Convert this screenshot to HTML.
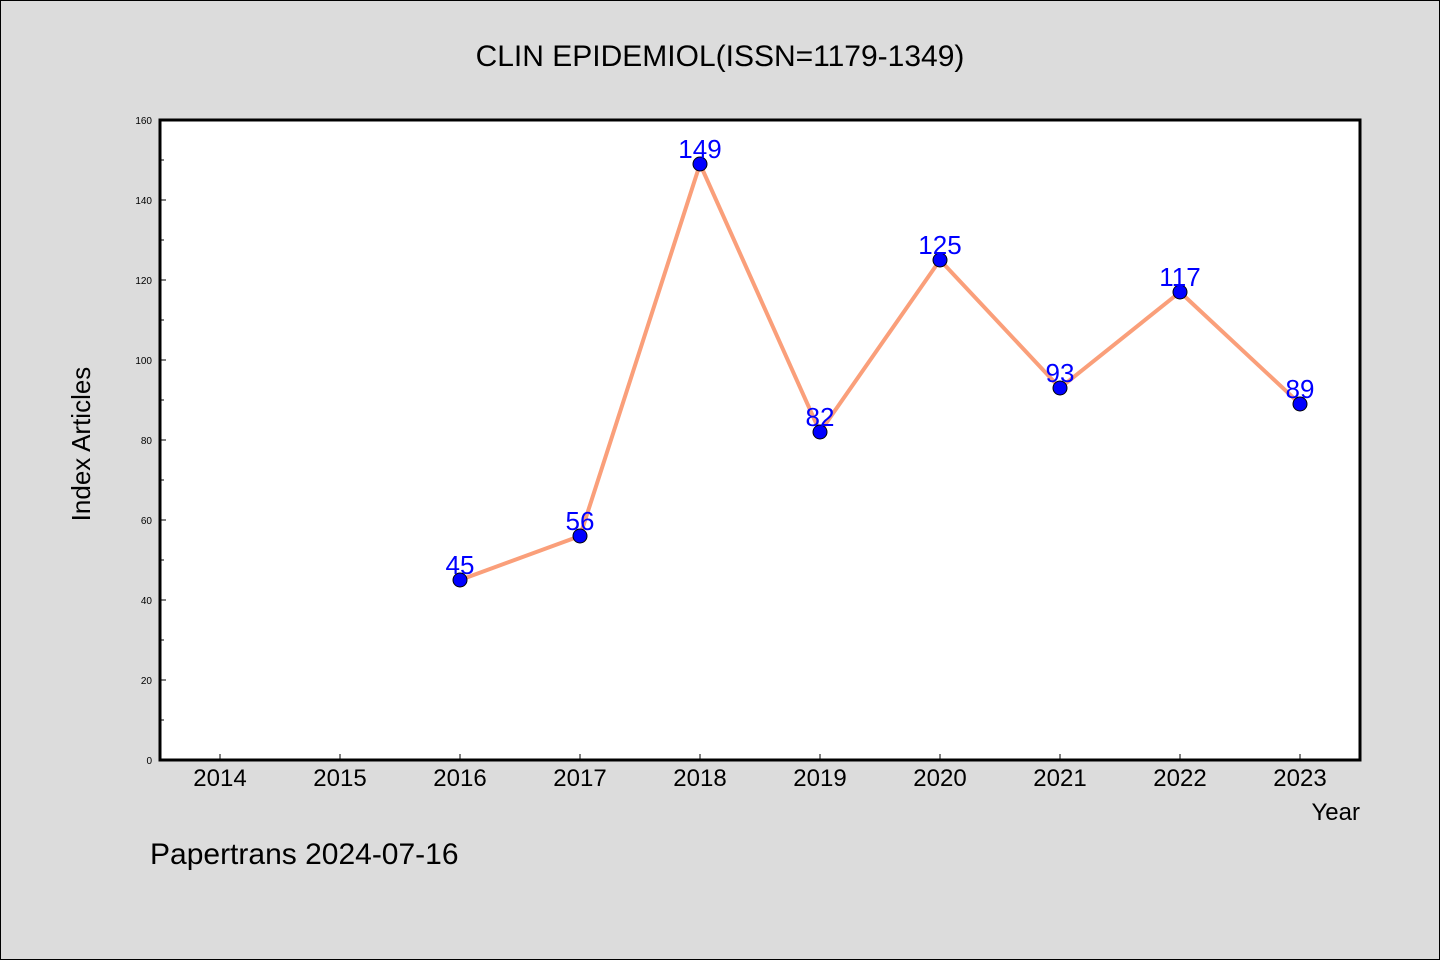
<!DOCTYPE html>
<html><head><meta charset="utf-8"><style>
body{margin:0;background:#dcdcdc;}
svg{display:block;font-family:"WenQuanYi Zen Hei","Liberation Sans",sans-serif;}
</style></head><body>
<svg id="c" width="1440" height="960">
<rect x="0.5" y="0.5" width="1439" height="959" fill="#dcdcdc" stroke="#000"/>
<text x="720" y="66" text-anchor="middle" font-size="30" fill="#000">CLIN EPIDEMIOL(ISSN=1179-1349)</text>
<rect x="160" y="120" width="1200" height="640" fill="#fff" stroke="#000" stroke-width="3"/>
<g id="axes"></g>
<g id="series"></g>
<text x="90" y="444" text-anchor="middle" font-size="26" transform="rotate(-90 90 444)">Index Articles</text>
<text x="1360" y="820" text-anchor="end" font-size="24">Year</text>
<text x="150" y="864" font-size="30">Papertrans 2024-07-16</text>
</svg>
<script>
const years=[2014,2015,2016,2017,2018,2019,2020,2021,2022,2023];
const values=[null,null,45,56,149,82,125,93,117,89];
const yTicks=[0,20,40,60,80,100,120,140,160];
const NS="http://www.w3.org/2000/svg";
const x0=160,x1=1360,y0=760,y1=120,yMax=160;
function xs(i){return 220+i*120;}
function ys(v){return y0-(v/yMax)*(y0-y1);}
function mk(t,a,p){const e=document.createElementNS(NS,t);for(const k in a)e.setAttribute(k,a[k]);p.appendChild(e);return e;}
const ax=document.getElementById('axes'),se=document.getElementById('series');
yTicks.forEach((v,i)=>{
  const y=ys(v);
  const t=mk('line',{x1:x0,x2:x0+6,y1:y,y2:y,stroke:'#000','stroke-width':1},ax);
  
  
  const l=mk('text',{x:x0-8,y:y+4,'text-anchor':'end','font-size':10},ax);
  l.textContent=v;
  
  
  if(i<yTicks.length-1){
    const ym=ys((v+yTicks[i+1])/2);
    const m=mk('line',{x1:x0,x2:x0+4,y1:ym,y2:ym,stroke:'#000','stroke-width':1},ax);
    
    
  }
});
years.forEach((yr,i)=>{
  const x=xs(i);
  const t=mk('line',{x1:x,x2:x,y1:y0,y2:y0-6,stroke:'#000','stroke-width':1},ax);
  
  
  const l=mk('text',{x:x,y:y0+26,'text-anchor':'middle','font-size':24},ax);
  l.textContent=yr;
  
  
});
const pts=[];values.forEach((v,i)=>{if(v!=null)pts.push([xs(i),ys(v),v]);});
const pl=mk('polyline',{points:pts.map(p=>p[0]+','+p[1]).join(' '),fill:'none',stroke:'#fa9f7a','stroke-width':4,'stroke-linejoin':'round'},se);


pts.forEach(p=>{
  const c=mk('circle',{cx:p[0],cy:p[1],r:7,fill:'#0000ff',stroke:'#000','stroke-width':1},se);
  
  
});
pts.forEach(p=>{
  const t=mk('text',{x:p[0],y:p[1]-6,'text-anchor':'middle','font-size':26,fill:'#0000ff'},se);
  t.textContent=p[2];
  
  
});
</script>
</body></html>
